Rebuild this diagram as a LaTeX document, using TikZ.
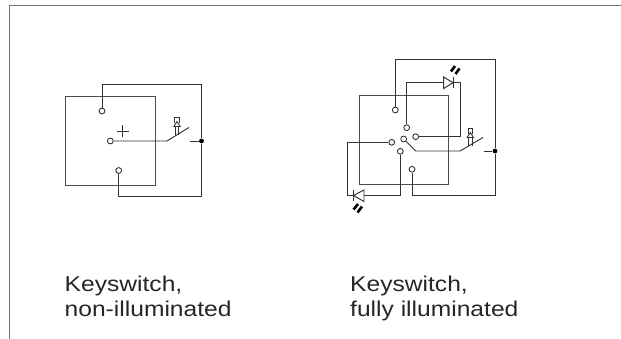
\documentclass[tikz,border=0pt]{standalone}
\usepackage{fontspec}
\setmainfont{Liberation Sans}
\newfontfamily\capfont[FakeStretch=1.15]{Liberation Sans}
\definecolor{wire}{gray}{0.2}
\tikzset{
  x=1pt,y=-1pt,
  wireline/.style={draw=wire,line width=0.95pt,line join=miter},
  boxline/.style={draw=black!70,line width=0.95pt},
  frameline/.style={draw=black!55,line width=1.3pt},
  term/.style={circle,draw=wire,fill=white,line width=0.9pt,inner sep=0pt,minimum size=5.8pt},
  junction/.style={circle,fill=black,inner sep=0pt,minimum size=4.8pt},
  caption/.style={anchor=base west,align=left,inner sep=0pt,text=black!85,font=\capfont\fontsize{21.4}{25}\selectfont},
  ledbar/.style={line width=2.6pt,draw=black}
}
\newcommand{\pushbtn}[2]{%
  \draw[wireline,line width=0.9pt] (#1-2.7,#2) -- (#1+2.7,#2) (#1-2.2,#2) -- (#1-2.2,#2+6) (#1+2.2,#2) -- (#1+2.2,#2+6);
  \draw[wireline,line width=0.9pt] (#1,#2+4.5) -- (#1-3.2,#2+9.5) -- (#1+3.2,#2+9.5) -- cycle;
  \draw[wireline,line width=0.9pt] (#1-1.7,#2+9.5) -- (#1-1.7,#2+18) (#1+1.7,#2+9.5) -- (#1+1.7,#2+18);
}
\begin{document}
\begin{tikzpicture}
\useasboundingbox (0,0) rectangle (621,339);
\draw[frameline] (9.7,339) -- (9.7,5.5) -- (621,5.5);
% left
\draw[boxline] (65.5,96) rectangle (155,185.5);
\node[term] (a1) at (102,111) {};
\node[term] (a2) at (110.3,141) {};
\node[term] (a3) at (118.7,170.5) {};
\node[junction] (aj) at (201.5,141) {};
\coordinate (as) at (167,141);
\coordinate (at) at (189,127.5);
\coordinate (ac) at (190,141);
\draw[wireline] (a1) -- (102,84.5) -- (201.5,84.5) -- (aj) -- (201.5,196.5) -- (118.7,196.5) -- (a3);
\draw[wireline] (a2) -- (as) -- (at);
\draw[wireline] (ac) -- (aj);
\draw[wireline,line width=0.8pt] (116.7,131.5) -- (128.7,131.5) (122.7,125.5) -- (122.7,137.5);
\pushbtn{177}{117}
% right
\draw[boxline] (359.5,95) rectangle (448,184);
\node[term] (b1) at (395.3,110) {};
\node[term] (b2) at (406.7,127.7) {};
\node[term] (b3) at (415.7,136.7) {};
\node[term] (b4) at (403.7,139) {};
\node[term] (b5) at (391.7,142.3) {};
\node[term] (b6) at (400.3,151.3) {};
\node[term] (b7) at (412,169.3) {};
\node[junction] (bj) at (495,151) {};
\coordinate (bs) at (460,151);
\coordinate (bt) at (483,137.5);
\coordinate (bc) at (483.5,151);
\draw[wireline] (b1) -- (395.3,59.5) -- (495,59.5) -- (bj) -- (495,195.5) -- (412,195.5) -- (b7);
\draw[wireline] (b2) -- (406.7,82.7) -- (444,82.7);
\draw[wireline] (b3) -- (460,136.7) -- (460,82.7) -- (453,82.7);
\draw[wireline] (b4) -- (415.7,151) -- (bs) -- (bt);
\draw[wireline] (bc) -- (bj);
\draw[wireline] (b5) -- (347.3,142.3) -- (347.3,195.5) -- (353.5,195.5);
\draw[wireline] (b6) -- (400.3,195.5) -- (364,195.5);
\pushbtn{470.3}{128}
% upper LED
\draw[wireline,fill=white] (443.7,77) -- (453,82.7) -- (443.7,88.5) -- cycle;
\draw[wireline] (453,77) -- (453,88.5);
\draw[ledbar] (455,66) -- (451,71.5);
\draw[ledbar] (459.5,68.5) -- (455.5,74);
% lower LED
\draw[wireline,fill=white] (364,190) -- (353.5,195.5) -- (364,201.5) -- cycle;
\draw[wireline] (353.5,190) -- (353.5,201.5);
\draw[ledbar] (358,204) -- (353.5,209.5);
\draw[ledbar] (362,206.5) -- (357.5,212.5);
% captions
\node[caption] (c1) at (64.5,291) {Keyswitch,};
\node[caption] (c1b) at (64.5,316) {non-illuminated};
\node[caption] (c2) at (350,291) {Keyswitch,};
\node[caption] (c2b) at (350,316) {fully illuminated};
\end{tikzpicture}
\end{document}
